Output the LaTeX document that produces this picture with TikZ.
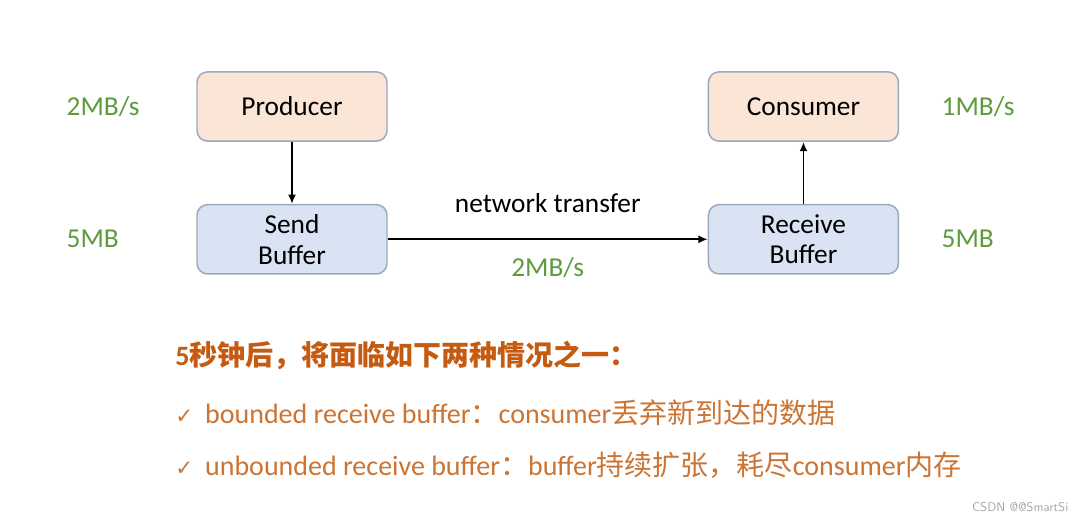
\documentclass[tikz,border=0pt]{standalone}
\usepackage{fontspec}
\setmainfont{Carlito}
\newfontfamily\cjk{Noto Sans CJK SC}
\newfontfamily\symfont{DejaVu Sans}
\usetikzlibrary{arrows.meta,positioning}
\definecolor{peach}{HTML}{FBE5D6}
\definecolor{paleblue}{HTML}{DAE3F3}
\definecolor{edgegrey}{HTML}{9AA8BC}
\definecolor{rategreen}{HTML}{5E9B3C}
\definecolor{noteorange}{HTML}{C55A11}
\definecolor{itemorange}{HTML}{CC7433}
\newcommand{\zh}[1]{{\cjk #1}}
\newcommand{\tick}{{\symfont\bfseries\fontsize{16}{17}\selectfont ✓}}

\begin{document}
\begin{tikzpicture}[
x=0.75pt,y=-0.75pt,
node distance=46.5pt and 240pt,
every node/.style={font=\fontsize{20.5}{22}\selectfont},
box/.style={draw=edgegrey,line width=1.1pt,rounded corners=8pt,
align=center,minimum width=142.5pt,minimum height=52pt,inner sep=2pt},
proc/.style={box,fill=peach},
buf/.style={box,fill=paleblue},
rate/.style={text=rategreen,anchor=west},
note/.style={anchor=west,text=itemorange,inner sep=0pt,
font=\fontsize{21}{23}\selectfont},
arr/.style={-{Latex[length=7pt,width=6pt]},line width=1.4pt}
]
\useasboundingbox[fill=white] (0,0) rectangle (1080,522);
\node[proc] (producer) at (292,106.5) {Producer};
\node[buf,below=of producer] (sendbuf) {Send\\[1pt]Buffer};
\node[proc,right=of producer] (consumer) {Consumer};
\node[buf,below=of consumer] (recvbuf) {Receive\\[1pt]Buffer};

% rates and sizes
\node[rate] (prodrate) at (62,107) {2MB/s};
\node[rate] (sendsize) at (62,239) {5MB};
\node[rate] (consrate) at (937,107) {1MB/s};
\node[rate] (recvsize) at (937,239) {5MB};

\draw[arr] (producer) -- (sendbuf);
\draw[arr] (sendbuf) -- (recvbuf)
  node[midway,above=16pt] (nettext) {network transfer}
  node[midway,below=10pt,text=rategreen] (netrate) {2MB/s};
\draw[arr] (recvbuf) -- (consumer);

% conclusion text
\node[note,text=noteorange,font=\fontsize{21}{23}\selectfont\bfseries] (title) at (175,355)
  {5\zh{秒钟后，将面临如下两种情况之一：}};
\node[note] (case1) at (175,413)
  {\tick\hspace{9pt}bounded receive buffer\zh{：}consumer\zh{丢弃新到达的数据}};
\node[note] (case2) at (175,465)
  {\tick\hspace{9pt}unbounded receive buffer\zh{：}buffer\zh{持续扩张，耗尽}consumer\zh{内存}};
\node[anchor=east,text=gray!70,font=\sffamily\fontsize{9.5}{10}\selectfont] (mark) at (1073,507) {CSDN @@SmartSi};
\end{tikzpicture}
\end{document}
